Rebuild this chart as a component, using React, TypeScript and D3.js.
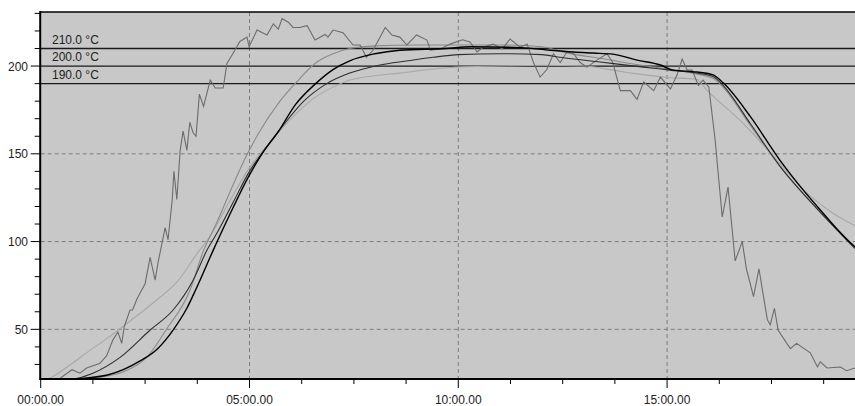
import React from "react";
import * as d3 from "d3";

// time in minutes, value in °C
const noisy: [number, number][] = [
  [0, 20.5], [0.4, 21], [0.75, 27], [0.94, 25], [1.1, 28], [1.42, 30.6], [1.58, 35], [1.73, 44], [1.85, 48.5], [1.94, 42],
  [2.0, 51.5], [2.14, 61], [2.2, 61], [2.3, 67], [2.38, 70.7], [2.5, 76], [2.62, 91], [2.74, 78], [2.81, 88], [2.98, 108],
  [3.05, 101], [3.15, 124], [3.19, 140], [3.26, 124], [3.34, 152], [3.41, 163], [3.5, 152], [3.57, 168], [3.65, 162], [3.72, 160],
  [3.8, 184], [3.9, 177], [4.06, 192], [4.18, 187.5], [4.37, 187.5], [4.46, 201.5], [4.6, 207], [4.77, 214], [4.94, 216.5], [4.99, 211],
  [5.18, 220.5], [5.42, 217.7], [5.57, 224], [5.69, 221], [5.78, 227], [5.93, 225], [6.04, 222], [6.2, 222], [6.38, 223], [6.57, 214.8],
  [6.81, 218], [6.88, 216.5], [7.0, 220.5], [7.24, 219], [7.48, 212], [7.65, 212], [7.8, 205], [7.96, 209], [8.25, 222], [8.41, 217.7],
  [8.6, 216.5], [8.77, 212], [9.0, 217.7], [9.25, 214.8], [9.33, 209], [9.57, 209.7], [9.8, 212.5], [10.1, 215], [10.28, 213.7], [10.45, 208],
  [10.6, 210.8], [10.84, 212.5], [11.05, 209.7], [11.24, 215.4], [11.48, 210.8], [11.65, 212.5], [11.8, 202], [11.96, 193.7], [12.12, 198], [12.28, 207],
  [12.44, 202], [12.6, 208], [12.76, 207], [12.92, 202], [13.08, 199.4], [13.32, 203.4], [13.56, 207], [13.7, 202], [13.88, 186], [14.12, 186],
  [14.28, 181], [14.44, 191], [14.68, 186], [14.84, 193.7], [15.08, 187], [15.24, 195], [15.36, 204], [15.48, 197.7], [15.6, 197.7], [15.75, 189],
  [15.86, 192], [16.0, 188], [16.15, 158], [16.32, 114], [16.46, 131], [16.63, 89], [16.8, 100], [16.9, 84.5], [17.07, 68.6], [17.2, 84.5],
  [17.4, 55.5], [17.47, 52.6], [17.57, 62], [17.66, 49.5], [17.95, 39], [18.1, 42], [18.43, 36.6], [18.6, 28.6], [18.67, 31.5], [18.83, 28],
  [19.15, 28.5], [19.3, 26.4], [19.5, 28],
];

const grayEarly: [number, number][] = [
  [0, 20.5], [0.5, 20.8], [1, 21.5], [1.5, 23], [2, 26], [2.54, 34], [3.0, 49.6], [3.57, 72], [3.9, 95], [4.2, 110],
  [4.6, 132], [4.95, 150], [5.2, 161], [5.73, 180], [6.13, 191], [6.6, 202], [7.0, 207], [7.4, 210], [8, 211.5], [9, 212],
  [10, 212], [11, 212], [12, 211], [12.6, 207.5], [13.5, 204], [14.5, 200], [15.1, 198], [15.7, 195.5], [16.1, 193], [16.3, 189],
  [17, 166], [17.7, 143], [18.5, 121], [19.5, 97],
];

const lightGray: [number, number][] = [
  [0, 20.5], [0.2, 22], [0.6, 28], [1.18, 38], [1.6, 45], [2.1, 54], [2.69, 65], [3.3, 78], [3.8, 95], [4.0, 101],
  [4.5, 122], [5.0, 142], [5.5, 157], [6.0, 170], [6.5, 181], [7.0, 188], [7.4, 192], [8.0, 194.5], [8.6, 196], [9.3, 198],
  [10, 199.5], [11, 200], [12, 200.5], [13, 200], [14, 196.5], [15, 193.5], [15.7, 192.5], [15.96, 186], [16.75, 169], [17.5, 150],
  [18.35, 127.6], [18.98, 116], [19.5, 109],
];

const blackA: [number, number][] = [
  [0, 20.5], [0.7, 21.5], [1.6, 24], [2.38, 32], [2.8, 39], [3.17, 49.6], [3.5, 62], [3.74, 74], [4.13, 95], [4.5, 114],
  [5.0, 138], [5.3, 150], [5.7, 163], [6.1, 178], [6.57, 189.7], [7.0, 198], [7.4, 203], [8.0, 207], [8.6, 209], [9.7, 210],
  [10.3, 211], [11.5, 210.5], [12.2, 209], [12.76, 208], [13.23, 207.4], [13.7, 206.8], [14.28, 203.4], [14.84, 200.6], [15.14, 197.7], [15.72, 196.6],
  [16.1, 195], [16.35, 190.3], [17.0, 171], [17.7, 146.4], [18.0, 137], [18.67, 118], [19.45, 98], [19.5, 97],
];

const darkB: [number, number][] = [
  [0, 20.5], [0.6, 21], [1.25, 25], [1.9, 34], [2.62, 49.6], [3.17, 61], [3.65, 78], [3.98, 95], [4.2, 104], [4.6, 122],
  [5.0, 140], [5.35, 152], [5.8, 166], [6.3, 180], [6.85, 190], [7.4, 196], [8.1, 200.5], [8.8, 203], [9.4, 205], [10, 206.5],
  [11, 207], [12, 206.5], [12.44, 205], [13.4, 202.3], [14.43, 199.4], [15.07, 197.7], [15.7, 196], [16.1, 194], [16.3, 190], [17, 167],
  [17.7, 143], [18.5, 121], [19.5, 96],
];

const refValues = [210, 200, 190];
const refLabels = ["210.0 °C", "200.0 °C", "190.0 °C"];
const yMajorTicks = [50, 100, 150, 200];
const xMajorTicks = [0, 5, 10, 15];

const W = 855;
const H = 406;
const left = 40.7;
const top = 12;
const bottom = 379;

function fmt(m: number) {
  const mm = Math.floor(m);
  const ss = Math.round((m - mm) * 60);
  return `${String(mm).padStart(2, "0")}:${String(ss).padStart(2, "0")}.00`;
}

export default function App() {
  const x = d3.scaleLinear().domain([0, 19.5]).range([left, W]);
  const y = d3.scaleLinear().domain([21.7, 230.8]).range([bottom, top]);

  const smooth = d3
    .line<[number, number]>()
    .x((d) => x(d[0]))
    .y((d) => y(d[1]))
    .curve(d3.curveMonotoneX);
  const jag = d3
    .line<[number, number]>()
    .x((d) => x(d[0]))
    .y((d) => y(d[1]));

  const yMinor = d3.range(30, 231, 10).filter((v) => v % 50 !== 0);
  const xMinor = d3.range(0, 19.51, 1.25).filter((v) => v % 5 !== 0);

  const font = "'Liberation Sans', Arial, sans-serif";

  return (
    <svg
      width={W}
      height={H}
      style={{ position: "absolute", left: 0, top: 0, background: "#fff" }}
      fontFamily={font}
    >
      <defs>
        <clipPath id="plot">
          <rect x={left} y={top} width={W - left} height={bottom - top} />
        </clipPath>
      </defs>
      <rect x={left} y={top} width={W - left} height={bottom - top} fill="#c8c8c8" />

      {/* grid */}
      <g stroke="#7c7c7c" strokeWidth={1} strokeDasharray="4,3">
        {xMajorTicks
          .filter((t) => t > 0)
          .map((t) => (
            <line key={"gx" + t} x1={x(t)} x2={x(t)} y1={top} y2={bottom} />
          ))}
        {yMajorTicks
          .filter((v) => v !== 200)
          .map((v) => (
            <line key={"gy" + v} x1={left} x2={W} y1={y(v)} y2={y(v)} />
          ))}
      </g>

      {/* reference lines */}
      <g>
        {refValues.map((v, i) => (
          <g key={"r" + v}>
            <line x1={left} x2={W} y1={y(v)} y2={y(v)} stroke="#1a1a1a" strokeWidth={1.3} />
            <text x={52} y={y(v) - 5} fontSize={12} fill="#222">
              {refLabels[i]}
            </text>
          </g>
        ))}
      </g>

      {/* data */}
      <g clipPath="url(#plot)" fill="none">
        <path d={smooth(lightGray) || ""} stroke="#a8a8a8" strokeWidth={1.1} />
        <path d={smooth(grayEarly) || ""} stroke="#8a8a8a" strokeWidth={1.1} />
        <path d={jag(noisy) || ""} stroke="#6c6c6c" strokeWidth={1.1} />
        <path d={smooth(darkB) || ""} stroke="#2e2e2e" strokeWidth={1.1} />
        <path d={smooth(blackA) || ""} stroke="#000" strokeWidth={1.4} />
      </g>

      {/* frame */}
      <line x1={left} x2={W} y1={top} y2={top} stroke="#000" strokeWidth={1.5} />
      <line x1={left - 0.5} x2={left - 0.5} y1={top - 1} y2={bottom + 1} stroke="#000" strokeWidth={2} />
      <line x1={left - 1} x2={W} y1={bottom} y2={bottom} stroke="#000" strokeWidth={2} />

      {/* y axis ticks */}
      <g stroke="#000" strokeWidth={1}>
        {yMinor.map((v) => (
          <line key={"ym" + v} x1={left - 6} x2={left} y1={y(v)} y2={y(v)} />
        ))}
        {yMajorTicks.map((v) => (
          <line key={"yM" + v} x1={left - 10} x2={left} y1={y(v)} y2={y(v)} />
        ))}
      </g>
      {yMajorTicks.map((v) => (
        <text key={"yl" + v} x={28} y={y(v) + 4.5} fontSize={12} textAnchor="end" fill="#222">
          {v}
        </text>
      ))}

      {/* x axis ticks */}
      <g stroke="#000" strokeWidth={1}>
        {xMinor.map((t) => (
          <line key={"xm" + t} x1={x(t)} x2={x(t)} y1={bottom} y2={bottom + 5} />
        ))}
        {xMajorTicks.map((t) => (
          <line key={"xM" + t} x1={x(t)} x2={x(t)} y1={bottom} y2={bottom + 9} />
        ))}
      </g>
      {xMajorTicks.map((t) => (
        <text key={"xl" + t} x={x(t)} y={404} fontSize={12} textAnchor="middle" fill="#222">
          {fmt(t)}
        </text>
      ))}
    </svg>
  );
}
